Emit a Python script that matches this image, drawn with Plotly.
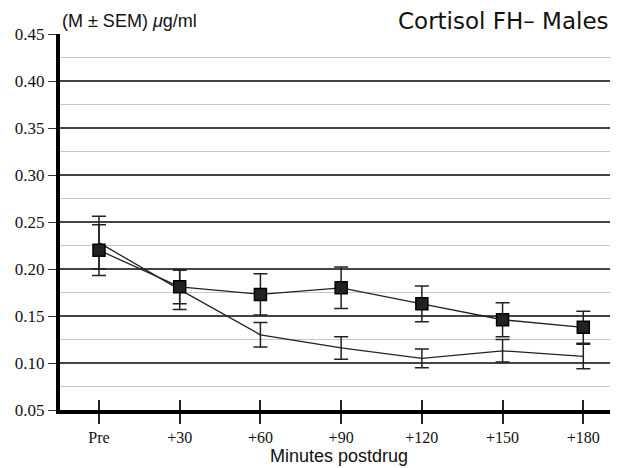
import plotly.graph_objects as go

categories = ["Pre", "+30", "+60", "+90", "+120", "+150", "+180"]
square_mean = [0.220, 0.181, 0.173, 0.180, 0.163, 0.146, 0.138]
square_sem = [0.027, 0.018, 0.022, 0.022, 0.019, 0.018, 0.017]
line_mean = [0.228, 0.178, 0.130, 0.116, 0.105, 0.113, 0.107]
line_sem = [0.028, 0.021, 0.013, 0.012, 0.010, 0.012, 0.013]
y_ticks = [0.05, 0.10, 0.15, 0.20, 0.25, 0.30, 0.35, 0.40, 0.45]

SERIF = "Liberation Serif, Times New Roman, Times, serif"
SANS = "Liberation Sans, Arial, Helvetica, sans-serif"

xs = list(range(len(categories)))
fig = go.Figure()

fig.add_trace(go.Scatter(
    x=xs, y=line_mean, mode="lines",
    line=dict(color="#222", width=1.3),
    error_y=dict(type="data", array=line_sem, visible=True, color="#222", thickness=1.5, width=7),
    showlegend=False, cliponaxis=False))

fig.add_trace(go.Scatter(
    x=xs, y=square_mean, mode="lines+markers",
    line=dict(color="#222", width=1.3),
    marker=dict(symbol="square", size=12, color="#222", line=dict(color="black", width=1.5)),
    error_y=dict(type="data", array=square_sem, visible=True, color="#222", thickness=1.5, width=7),
    showlegend=False, cliponaxis=False))

# invisible trace on overlay axis for upward tick marks
fig.add_trace(go.Scatter(x=[xs[0]], y=[square_mean[0]], xaxis="x2", mode="markers",
                         marker=dict(opacity=0), showlegend=False, hoverinfo="skip"))

xr = [-0.483, 6.43]
fig.update_layout(
    width=610, height=460,
    margin=dict(l=52, r=0, t=26, b=58),
    paper_bgcolor="white", plot_bgcolor="white",
    xaxis=dict(range=xr, tickvals=xs, ticktext=categories,
               showgrid=False, zeroline=False,
               showline=True, linecolor="black", linewidth=4,
               ticks="outside", ticklen=10, tickwidth=1.5, tickcolor="#222",
               tickfont=dict(family=SERIF, size=16, color="#111"),
               title=dict(text="Minutes postdrug", font=dict(family=SANS, size=18, color="#111"), standoff=2)),
    xaxis2=dict(range=xr, tickvals=xs, showticklabels=False, overlaying="x", anchor="y", side="bottom",
                showgrid=False, zeroline=False, ticks="inside", ticklen=10, tickwidth=1.5, tickcolor="#222"),
    yaxis=dict(range=[0.05, 0.45], tickvals=y_ticks, ticktext=[f"{v:.2f}" for v in y_ticks],
               showgrid=True, gridcolor="#444", gridwidth=1.5, zeroline=False,
               showline=True, linecolor="black", linewidth=4,
               ticks="outside", ticklen=8, tickwidth=1, tickcolor="#333",
               tickfont=dict(family=SERIF, size=17, color="#111"),
               minor=dict(dtick=0.025, tick0=0.05, showgrid=True, gridcolor="#c8c8c8", gridwidth=1, ticks="")),
    annotations=[
        dict(text="(M ± SEM) <i>μ</i>g/ml", x=0, xref="paper", xanchor="left", xshift=0,
             y=1, yref="paper", yanchor="bottom", yshift=1, showarrow=False,
             font=dict(family=SANS, size=18, color="#111")),
        dict(text="Cortisol FH– Males", x=1, xref="paper", xanchor="right", xshift=-7,
             y=1, yref="paper", yanchor="bottom", yshift=-2, showarrow=False,
             font=dict(family="DejaVu Sans", size=23, color="#111")),
    ],
)

fig.write_html("out.html")
